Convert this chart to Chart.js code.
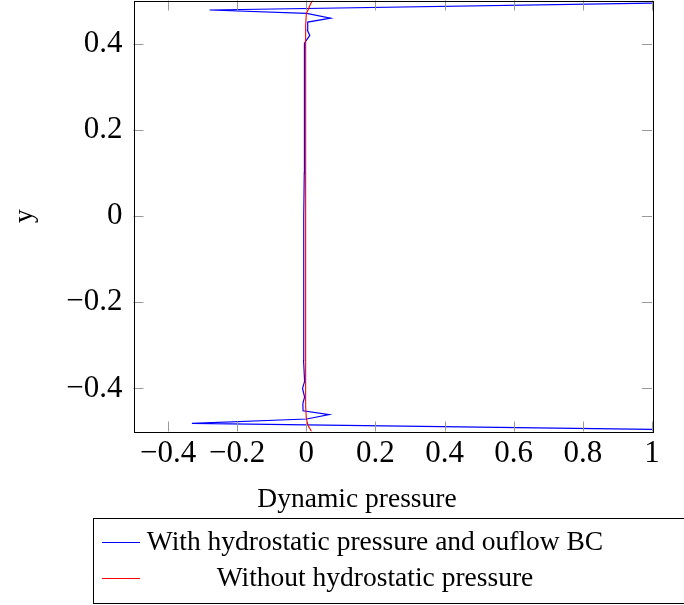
<!DOCTYPE html>
<html>
<head>
<meta charset="utf-8">
<script src="https://cdn.jsdelivr.net/npm/chart.js@4"></script>
<style>
  html, body { margin: 0; padding: 0; background: #fff; }
  #wrap { width: 684px; height: 605px; }
</style>
</head>
<body>
<div id="wrap"><canvas id="pChart" width="684" height="605"></canvas></div>
<script>
// series 1: with hydrostatic pressure and outflow BC (path order, bottom to top)
const blueX = [1.0, -0.331, 0.001, 0.066, -0.0095, -0.01, -0.005, -0.011, -0.005, -0.008, -0.008, -0.008, -0.007, -0.007, -0.006, -0.006, -0.0055, -0.0055, -0.005, 0.01, 0.003, 0.004, 0.07, 0.001, -0.28, 1.0];
const blueY = [-0.495, -0.481, -0.471, -0.461, -0.452, -0.435, -0.42, -0.40, -0.384, -0.335, -0.3, -0.2, -0.1, 0, 0.1, 0.2, 0.3, 0.36, 0.401, 0.419, 0.431, 0.45, 0.459, 0.47, 0.478, 0.494];

// series 2: without hydrostatic pressure
const redX = [0.015, 0.005, 0.0, -0.002, -0.002, -0.002, -0.002, -0.002, 0.0, 0.005, 0.012, 0.019];
const redY = [-0.5, -0.486, -0.47, -0.44, -0.3, 0, 0.3, 0.44, 0.47, 0.478, 0.492, 0.5];

const xTicks = [-0.4, -0.2, 0, 0.2, 0.4, 0.6, 0.8, 1];
const yTicks = [-0.4, -0.2, 0, 0.2, 0.4];

const labels = ['With hydrostatic pressure and ouflow BC', 'Without hydrostatic pressure'];
const xTitle = 'Dynamic pressure';
const yTitle = 'y';

const SERIF = '"Liberation Serif", "DejaVu Serif", serif';

function fmt(v) {
    if (v === 0) return '0';
    return (v < 0 ? '\u2212' : '') + String(Math.abs(v));
}

// frame, inward ticks on all sides, x label and the boxed legend
const decor = {
    id: 'decor',
    afterDraw(chart) {
        const ctx = chart.ctx;
        const a = chart.chartArea;
        const xs = chart.scales.x, ys = chart.scales.y;
        const tl = 10;
        ctx.save();
        ctx.strokeStyle = '#999';
        ctx.lineWidth = 1;
        ctx.beginPath();
        xTicks.forEach(v => {
            const px = Math.round(xs.getPixelForValue(v)) + 0.5;
            ctx.moveTo(px, a.top); ctx.lineTo(px, a.top + tl);
            ctx.moveTo(px, a.bottom); ctx.lineTo(px, a.bottom - tl);
        });
        yTicks.forEach(v => {
            const py = Math.round(ys.getPixelForValue(v)) + 0.5;
            ctx.moveTo(a.left, py); ctx.lineTo(a.left + tl, py);
            ctx.moveTo(a.right, py); ctx.lineTo(a.right - tl, py);
        });
        ctx.stroke();

        ctx.strokeStyle = '#000';
        ctx.strokeRect(Math.round(a.left) + 0.5, Math.round(a.top) + 0.5,
            Math.round(a.right - a.left), Math.round(a.bottom - a.top));

        // x axis label
        ctx.fillStyle = '#000';
        ctx.font = '27.5px ' + SERIF;
        ctx.textAlign = 'center';
        ctx.textBaseline = 'alphabetic';
        ctx.fillText(xTitle, 357, 507);

        // legend
        ctx.strokeStyle = '#000';
        ctx.strokeRect(93.5, 518.5, 620, 85);
        const rows = [542, 578];
        chart.data.datasets.forEach((ds, i) => {
            ctx.strokeStyle = ds.borderColor;
            ctx.lineWidth = 1;
            ctx.beginPath();
            ctx.moveTo(102, rows[i] + 0.5);
            ctx.lineTo(140, rows[i] + 0.5);
            ctx.stroke();
            ctx.fillStyle = '#000';
            ctx.textBaseline = 'middle';
            ctx.fillText(ds.label, 375, rows[i] + 1);
        });
        ctx.restore();
    }
};

const ctx = document.getElementById('pChart').getContext('2d');
new Chart(ctx, {
    type: 'scatter',
    data: {
        datasets: [{
            label: labels[0],
            data: blueX.map((x, i) => ({ x: x, y: blueY[i] })),
            showLine: true,
            borderColor: '#0000ff',
            borderWidth: 1.2,
            pointRadius: 0,
            tension: 0,
            order: 1
        }, {
            label: labels[1],
            data: redX.map((x, i) => ({ x: x, y: redY[i] })),
            showLine: true,
            borderColor: '#ff0000',
            borderWidth: 1.1,
            pointRadius: 0,
            tension: 0,
            order: 0
        }]
    },
    options: {
        responsive: false,
        animation: false,
        layout: { padding: { left: 0, top: 0.5, right: 32, bottom: 0 } },
        scales: {
            x: {
                type: 'linear',
                min: -0.5,
                max: 1,
                afterBuildTicks: s => { s.ticks = xTicks.map(v => ({ value: v })); },
                afterFit: s => { s.height = 605 - 431.5; s.paddingLeft = 0; s.paddingRight = 0; },
                grid: { display: false, drawTicks: false },
                border: { display: false },
                ticks: {
                    font: { family: SERIF, size: 31 },
                    color: '#000',
                    padding: 3.5,
                    maxRotation: 0,
                    autoSkip: false,
                    callback: v => fmt(v)
                }
            },
            y: {
                type: 'linear',
                min: -0.5,
                max: 0.5,
                afterBuildTicks: s => { s.ticks = yTicks.map(v => ({ value: v })); },
                afterFit: s => { s.width = 133.5; s.paddingTop = 0; s.paddingBottom = 0; },
                grid: { display: false, drawTicks: false },
                border: { display: false },
                title: {
                    display: true,
                    text: yTitle,
                    font: { family: SERIF, size: 27.5 },
                    color: '#000',
                    padding: { top: 8, bottom: 0 }
                },
                ticks: {
                    font: { family: SERIF, size: 31 },
                    color: '#000',
                    padding: 11,
                    autoSkip: false,
                    callback: v => fmt(v)
                }
            }
        },
        plugins: {
            legend: { display: false },
            tooltip: { enabled: false }
        }
    },
    plugins: [decor]
});
</script>
</body>
</html>
